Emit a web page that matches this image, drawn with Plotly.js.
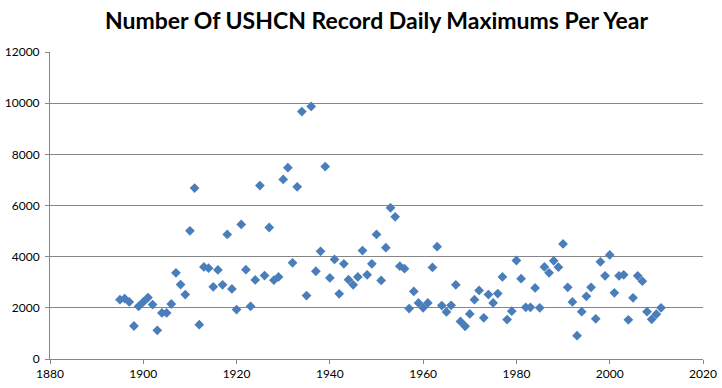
<!DOCTYPE html>
<html>
<head>
<meta charset="utf-8">
<script src="https://cdn.plot.ly/plotly-3.0.1.min.js"></script>
<style>
html,body{margin:0;padding:0;background:#fff;}
#chart{width:722px;height:388px;}
</style>
</head>
<body>
<div id="chart"></div>
<script>
var years = [];
for (var yr = 1895; yr <= 2011; yr++) { years.push(yr); }

var recordMaximums = [
  2320, 2360, 2230, 1290, 2060, 2230, 2400, 2130, 1120, 1800,
  1800, 2150, 3370, 2910, 2520, 5010, 6680, 1340, 3600, 3550,
  2820, 3480, 2900, 4870, 2740, 1930, 5260, 3490, 2060, 3090,
  6780, 3260, 5140, 3080, 3210, 7020, 7480, 3760, 6730, 9670,
  2480, 9870, 3430, 4210, 7520, 3170, 3890, 2550, 3720, 3100,
  2900, 3210, 4240, 3290, 3720, 4870, 3070, 4350, 5910, 5560,
  3630, 3530, 1970, 2640, 2190, 2000, 2190, 3580, 4390, 2090,
  1840, 2100, 2900, 1470, 1280, 1760, 2320, 2680, 1610, 2520,
  2190, 2560, 3210, 1540, 1870, 3850, 3140, 2020, 2020, 2780,
  2000, 3600, 3370, 3840, 3590, 4500, 2800, 2230, 910, 1850,
  2450, 2800, 1570, 3800, 3250, 4070, 2585, 3250, 3290, 1530,
  2390, 3250, 3040, 1850, 1550, 1750, 2000
];

var xTickVals = [1880, 1900, 1920, 1940, 1960, 1980, 2000, 2020];
var yTickVals = [0, 2000, 4000, 6000, 8000, 10000, 12000];

var chartTitle = "Number Of USHCN Record Daily Maximums Per Year";

var trace = {
  x: years,
  y: recordMaximums,
  type: "scatter",
  mode: "markers",
  marker: { symbol: "diamond", size: 7.5, color: "#4a7ebb" },
  hoverinfo: "x+y"
};

var layout = {
  width: 722,
  height: 388,
  margin: { l: 50, r: 19, t: 52, b: 29 },
  paper_bgcolor: "#ffffff",
  plot_bgcolor: "#ffffff",
  showlegend: false,
  title: {
    text: "<b>" + chartTitle + "</b>",
    font: { family: "Lato, 'Open Sans', sans-serif", size: 23, color: "#000000" },
    x: 0.5, xref: "paper", xanchor: "center",
    y: 0.945, yref: "container", yanchor: "middle"
  },
  xaxis: {
    range: [1880, 2020],
    tickvals: xTickVals,
    ticktext: xTickVals.map(String),
    showgrid: false,
    zeroline: false,
    showline: true,
    linecolor: "#868686",
    linewidth: 1,
    ticks: "outside",
    ticklen: 4,
    tickcolor: "#868686",
    tickfont: { family: "Lato, 'Open Sans', sans-serif", size: 12, color: "#000000" }
  },
  yaxis: {
    range: [0, 12000],
    tickvals: yTickVals,
    ticktext: yTickVals.map(String),
    showgrid: true,
    gridcolor: "#868686",
    gridwidth: 1,
    zeroline: false,
    showline: true,
    linecolor: "#868686",
    linewidth: 1,
    ticks: "outside",
    ticklen: 4,
    tickcolor: "#868686",
    ticklabelstandoff: 3,
    tickfont: { family: "Lato, 'Open Sans', sans-serif", size: 12, color: "#000000" }
  }
};

Plotly.newPlot("chart", [trace], layout, { displayModeBar: false, staticPlot: true });
</script>
</body>
</html>
